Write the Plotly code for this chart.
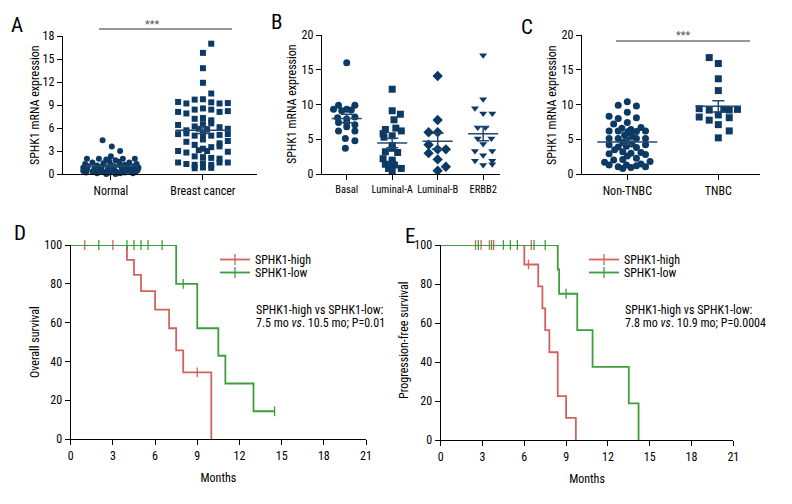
import numpy as np
import plotly.graph_objects as go

# ---------------- DATA ----------------
# Panel A: SPHK1 mRNA expression, Normal vs Breast cancer
A_categories = ["Normal", "Breast cancer"]
A_normal_vals = [4.4, 3.6, 3.0, 2.3, 2.0, 2.0, 2.0, 2.0, 1.9, 1.8, 1.7, 1.6, 1.5, 1.5, 1.4, 1.3, 1.3,
                 1.2, 1.2, 1.1, 1.1, 1.0, 1.0, 1.0, 0.9, 0.9, 0.8, 0.8, 0.8, 0.7, 0.7, 0.6, 0.6, 0.6,
                 0.5, 0.5, 0.5, 0.4, 0.4, 0.4, 0.3, 0.3, 0.3, 0.3, 0.2, 0.2, 0.2, 0.1, 0.1, 0.1, 0.0, 0.0]
A_normal_jitter = [-0.09, 0.01, 0.10, 0.0, -0.26, -0.13, 0.13, 0.26, -0.05, 0.05, -0.02, 0.09, -0.20, 0.20,
                   -0.08, -0.28, 0.28, 0.0, 0.15, -0.15, 0.10, -0.25, 0.25, 0.04, -0.10, 0.18, -0.30, -0.03,
                   0.30, -0.18, 0.12, -0.26, 0.03, 0.22, -0.12, 0.14, 0.29, -0.30, -0.04, 0.20, -0.20, 0.06,
                   0.27, -0.09, -0.27, 0.15, -0.01, -0.15, 0.10, 0.24, -0.05, 0.05]
A_cancer_vals = [17.0, 15.8, 13.8, 11.9, 10.5,
                 9.4, 9.2, 9.7, 9.75, 9.35, 9.2, 9.25,
                 8.1, 7.9, 8.4, 8.55, 8.4, 8.1, 8.2,
                 7.2, 7.3, 7.0,
                 6.4, 6.2, 6.5, 6.6, 6.1,
                 5.7, 5.9, 5.8, 5.9,
                 5.2, 5.3, 5.0, 5.2, 5.0, 5.1, 5.2,
                 4.2, 4.5, 4.0, 4.3,
                 3.8, 3.3, 3.5, 3.6,
                 3.0, 2.8, 3.1, 3.0, 2.9,
                 2.3, 2.2, 2.1, 2.0,
                 1.5, 1.3, 1.2, 1.4, 1.2, 1.5, 1.5,
                 0.75, 0.85, 0.8]
A_cancer_jitter = [0.09, 0, 0, 0, 0.09,
                   -0.27, -0.18, -0.09, 0, 0.09, 0.18, 0.27,
                   -0.27, -0.18, -0.09, 0, 0.09, 0.18, 0.27,
                   -0.09, 0, 0.09,
                   -0.27, -0.09, 0, 0.09, 0.18,
                   -0.18, -0.045, 0.045, 0.27,
                   -0.27, -0.18, -0.09, 0, 0.09, 0.18, 0.27,
                   -0.18, 0, 0.18, 0.27,
                   -0.09, 0, 0.09, 0.18,
                   -0.27, -0.18, -0.045, 0.045, 0.27,
                   -0.09, 0, 0.09, 0.18,
                   -0.27, -0.18, -0.09, 0, 0.09, 0.18, 0.27,
                   -0.09, 0, 0.09]
A_ticks = [0, 3, 6, 9, 12, 15, 18]

# Panel B: subtypes
B_categories = ["Basal", "Luminal-A", "Luminal-B", "ERBB2"]
B_basal_vals = [16.0, 9.9, 9.9, 9.3, 9.1, 9.3, 9.2, 8.1, 7.9, 8.2, 7.4, 7.4, 7.1, 6.2, 6.8, 6.2, 5.1, 4.8, 3.7]
B_basal_jit = [0, -0.18, 0.18, -0.29, -0.11, 0.0, 0.10, -0.20, 0.0, 0.18, -0.18, 0.0, 0.18, -0.18, 0.0, 0.18, -0.03, 0.18, -0.03]
B_luma_vals = [12.2, 9.1, 8.6, 7.8, 6.4, 6.6, 6.2, 5.8, 5.5, 5.3, 4.1, 3.7, 3.2, 3.1, 2.2, 2.0, 1.6, 1.4, 1.3, 0.8, 0.8, 0.5]
B_luma_jit = [0, 0, 0.18, 0.04, -0.15, 0.08, 0.20, -0.20, 0.0, -0.18, 0.0, 0.0, -0.15, 0.12, -0.20, 0.0, 0.0, -0.15, 0.05, 0.20, -0.08, 0.0]
B_lumb_vals = [14.1, 7.77, 6.0, 6.0, 4.2, 3.55, 3.55, 3.0, 2.1, 1.05, 0.48]
B_lumb_jit = [0, 0, -0.20, 0.0, -0.20, 0.0, 0.18, -0.20, 0.0, 0.18, 0.0]
B_erbb2_vals = [17.1, 10.75, 9.45, 8.7, 8.7, 6.7, 6.7, 5.1, 5.1, 4.3, 3.3, 3.3, 2.7, 1.9, 1.9, 1.3, 1.4]
B_erbb2_jit = [0, 0, -0.18, 0.0, 0.20, -0.12, 0.05, -0.12, 0.18, 0.0, -0.18, 0.20, 0.0, -0.18, 0.20, 0.0, 0.20]
B_ticks = [0, 5, 10, 15, 20]

# Panel C: Non-TNBC vs TNBC
C_categories = ["Non-TNBC", "TNBC"]
C_non_vals = [10.4, 9.9, 9.8, 8.9, 8.3, 8.0, 8.1, 7.4, 7.2, 6.6, 6.4, 6.7, 6.2, 6.2, 6.1, 6.1, 6.2, 5.9, 5.6,
              5.1, 5.1, 4.9, 5.1, 5.1, 5.4, 4.2, 3.9, 4.0, 3.8, 4.2, 4.5, 4.3, 2.9, 3.2, 3.0, 3.1, 2.8, 3.5,
              2.0, 2.1, 2.25, 1.8, 2.6, 1.3, 1.05, 1.3, 1.45, 1.05, 0.95, 0.8, 1.7, 1.2]
C_non_jit = [0.0, -0.10, 0.10, 0.0, -0.20, -0.10, 0.10, 0.0, -0.15, -0.06, 0.04, 0.15, -0.10, -0.20, 0.01, 0.10, 0.20, 0.03, -0.03,
             -0.20, -0.10, -0.01, 0.10, 0.20, 0.05, -0.20, -0.10, -0.01, 0.10, 0.20, -0.05, 0.05, -0.20, -0.05, 0.04, 0.15, 0.20, -0.14,
             -0.15, -0.05, 0.10, 0.25, 0.0, -0.20, -0.10, -0.01, 0.15, 0.20, 0.04, -0.05, -0.25, 0.10]
C_tnbc_vals = [16.75, 15.9, 13.7, 12.0, 9.4, 9.2, 9.3, 9.2, 9.3, 8.2, 7.75, 8.5, 8.1, 7.1, 6.2, 5.2]
C_tnbc_jit = [-0.10, 0.0, 0.0, 0.0, -0.21, -0.10, 0.06, 0.12, 0.21, -0.21, -0.10, 0.0, 0.12, 0.0, 0.12, 0.0]
C_ticks = [0, 5, 10, 15, 20]

# Panel D: Overall survival (Kaplan-Meier)
D_high_t = [0, 4.0, 4.5, 5.0, 6.0, 7.0, 7.5, 8.0, 10.0]
D_high_s = [100, 92.3, 84.6, 76.2, 66.7, 57.1, 45.7, 34.3, 0]
D_high_cens_t = [1.0, 3.0, 9.0]
D_high_cens_s = [100, 100, 34.3]
D_low_t = [0, 7.5, 9.0, 10.5, 11.0, 13.0, 14.5]
D_low_s = [100, 80.0, 57.1, 42.9, 28.6, 14.3, 14.3]
D_low_cens_t = [2.0, 4.0, 4.5, 5.0, 5.5, 6.5, 8.0, 14.5]
D_low_cens_s = [100, 100, 100, 100, 100, 100, 80.0, 14.3]

# Panel E: Progression-free survival (Kaplan-Meier)
E_high_t = [0, 6.0, 7.0, 7.3, 7.5, 7.8, 8.4, 9.0, 9.7]
E_high_s = [100, 90.0, 78.8, 67.5, 56.3, 45.0, 22.5, 11.3, 0]
E_high_cens_t = [2.5, 2.9, 3.5, 3.8, 6.5, 6.3]
E_high_cens_s = [100, 100, 100, 100, 100, 90.0]
E_low_t = [0, 8.4, 8.5, 9.8, 10.9, 13.5, 14.2]
E_low_s = [100, 87.5, 75.0, 56.3, 37.5, 18.8, 0]
E_low_cens_t = [2.7, 3.65, 4.5, 5.0, 5.5, 6.7, 7.5, 9.0]
E_low_cens_s = [100, 100, 100, 100, 100, 100, 100, 75.0]

KM_xticks = [0, 3, 6, 9, 12, 15, 18, 21]
KM_yticks = [0, 20, 40, 60, 80, 100]
series_names = ["SPHK1-high", "SPHK1-low"]
D_stat_lines = ["SPHK1-high vs SPHK1-low:", "7.5 mo <i>vs</i>. 10.5 mo; P=0.01"]
E_stat_lines = ["SPHK1-high vs SPHK1-low:", "7.8 mo <i>vs</i>. 10.9 mo; P=0.0004"]

# ---------------- STYLE ----------------
W, H = 792, 504
FONT = "Liberation Sans Narrow, Arial Narrow, Roboto Condensed, DejaVu Sans Condensed, sans-serif"
NAVY = "#0d3a64"
MEANC = "#24496f"
RED = "#d4625c"
GREEN = "#3e9d3c"


def dx(p):
    return p / W


def dy(p):
    return 1 - p / H


fig = go.Figure()


def add_group(xa, ya, center, vals, jit, symbol, size, half, cap):
    vals = np.asarray(vals, float)
    x = center + np.asarray(jit, float)
    fig.add_trace(go.Scatter(x=x, y=vals, mode="markers", xaxis=xa, yaxis=ya, showlegend=False,
                             cliponaxis=False,
                             marker=dict(symbol=symbol, size=size, color=NAVY, line=dict(width=0))))
    m = vals.mean()
    sem = vals.std(ddof=1) / np.sqrt(len(vals))
    fig.add_trace(go.Scatter(x=[center - half, center + half], y=[m, m], mode="lines", xaxis=xa, yaxis=ya,
                             showlegend=False, line=dict(color=MEANC, width=1.5)))
    fig.add_trace(go.Scatter(x=[center], y=[m], mode="markers", xaxis=xa, yaxis=ya, showlegend=False,
                             marker=dict(size=1, color=MEANC),
                             error_y=dict(type="data", array=[sem], color=MEANC, thickness=1.5, width=cap)))


# Panel A
add_group("x", "y", 0, A_normal_vals, A_normal_jitter, "circle", 6, 0.28, 6)
add_group("x", "y", 1, A_cancer_vals, A_cancer_jitter, "square", 6, 0.30, 6)
# Panel B
for i, (v, j, s) in enumerate([(B_basal_vals, B_basal_jit, "circle"), (B_luma_vals, B_luma_jit, "square"),
                               (B_lumb_vals, B_lumb_jit, "diamond"), (B_erbb2_vals, B_erbb2_jit, "triangle-down")]):
    add_group("x2", "y2", i, v, j, s, 7 if s != "diamond" else 8, 0.33, 6)
# Panel C
add_group("x3", "y3", 0, C_non_vals, C_non_jit, "circle", 7, 0.33, 6)
add_group("x3", "y3", 1, C_tnbc_vals, C_tnbc_jit, "square", 7, 0.25, 6)


# KM panels
def km(xa, ya, t, s, ct, cs, color, name, legend):
    fig.add_trace(go.Scatter(x=t, y=s, mode="lines", line_shape="hv", xaxis=xa, yaxis=ya, showlegend=False,
                             cliponaxis=False, line=dict(color=color, width=1.8)))
    fig.add_trace(go.Scatter(x=ct, y=cs, mode="markers", xaxis=xa, yaxis=ya, showlegend=False, cliponaxis=False,
                             marker=dict(symbol="line-ns", size=7, line=dict(color=color, width=1.3))))
    fig.add_trace(go.Scatter(x=[None], y=[None], mode="lines+markers", xaxis=xa, yaxis=ya, name=name,
                             legend=legend, showlegend=True, line=dict(color=color, width=1.8),
                             marker=dict(symbol="line-ns", size=8, line=dict(color=color, width=1.3))))


km("x4", "y4", D_high_t, D_high_s, D_high_cens_t, D_high_cens_s, RED, series_names[0], "legend")
km("x4", "y4", D_low_t, D_low_s, D_low_cens_t, D_low_cens_s, GREEN, series_names[1], "legend2")
km("x5", "y5", E_high_t, E_high_s, E_high_cens_t, E_high_cens_s, RED, series_names[0], "legend3")
km("x5", "y5", E_low_t, E_low_s, E_low_cens_t, E_low_cens_s, GREEN, series_names[1], "legend4")

axis_common = dict(showline=True, linecolor="black", linewidth=1.4, ticks="outside", ticklen=5, tickwidth=1.3,
                   tickcolor="black", showgrid=False, zeroline=False, tickfont=dict(size=12, color="black"),
                   fixedrange=True, automargin=False, tickangle=0)

lay = dict(template="none", width=W, height=H, margin=dict(l=0, r=0, t=0, b=0, pad=0),
           paper_bgcolor="white", plot_bgcolor="white", font=dict(family=FONT, color="black", size=12))

# A
lay["xaxis"] = dict(axis_common, domain=[dx(63), dx(257)], range=[-0.52, 1.587], anchor="y",
                    tickvals=[0, 1], ticktext=A_categories)
lay["yaxis"] = dict(axis_common, domain=[dy(174), dy(36)], range=[0, 18], anchor="x", tickvals=A_ticks)
# B
lay["xaxis2"] = dict(axis_common, domain=[dx(322), dx(500)], range=[-0.543, 3.37], anchor="y2",
                     tickvals=[0, 1, 2, 3], ticktext=B_categories, tickfont=dict(size=10.5, color="black"))
lay["yaxis2"] = dict(axis_common, domain=[dy(174), dy(35)], range=[0, 20], anchor="x2", tickvals=B_ticks)
# C
lay["xaxis3"] = dict(axis_common, domain=[dx(582), dx(760)], range=[-0.498, 1.458], anchor="y3",
                     tickvals=[0, 1], ticktext=C_categories)
lay["yaxis3"] = dict(axis_common, domain=[dy(174), dy(35)], range=[0, 20], anchor="x3", tickvals=C_ticks)
# D
lay["xaxis4"] = dict(axis_common, domain=[dx(70.7), dx(366)], range=[0, 21], anchor="y4", tickvals=KM_xticks,
                     title=dict(text="Months", font=dict(size=12), standoff=12))
lay["yaxis4"] = dict(axis_common, domain=[dy(439), dy(245)], range=[0, 100], anchor="x4", tickvals=KM_yticks)
# E
lay["xaxis5"] = dict(axis_common, domain=[dx(440.7), dx(733.3)], range=[0, 21], anchor="y5", tickvals=KM_xticks,
                     title=dict(text="Months", font=dict(size=12), standoff=12))
lay["yaxis5"] = dict(axis_common, domain=[dy(440), dy(245)], range=[0, 100], anchor="x5", tickvals=KM_yticks)

leg_common = dict(bgcolor="rgba(0,0,0,0)", font=dict(size=12, family=FONT), xanchor="left", yanchor="top",
                  tracegroupgap=0, itemwidth=30)
lay["legend"] = dict(leg_common, x=dx(215), y=dy(245))
lay["legend2"] = dict(leg_common, x=dx(215), y=dy(258))
lay["legend3"] = dict(leg_common, x=dx(584), y=dy(245))
lay["legend4"] = dict(leg_common, x=dx(584), y=dy(258))

fig.update_layout(**lay)

# y-axis titles (rotated text)
for txt, px, py in [("SPHK1 mRNA expression", 35, 105), ("SPHK1 mRNA expression", 292, 104),
                    ("SPHK1 mRNA expression", 552, 105), ("Overall survival", 35, 342),
                    ("Progression-free survival", 404, 340)]:
    fig.add_annotation(text=txt, x=dx(px), y=dy(py), xref="paper", yref="paper", showarrow=False,
                       textangle=-90, xanchor="center", yanchor="middle", font=dict(size=12, family=FONT))

# panel letters
for letter, px, py in [("A", 17, 25), ("B", 276, 22), ("C", 527, 27), ("D", 20, 233), ("E", 410, 236)]:
    fig.add_annotation(text=letter, x=dx(px), y=dy(py), xref="paper", yref="paper", showarrow=False,
                       xanchor="center", yanchor="middle", font=dict(size=21, family=FONT, color="black"))

# significance bars
for x0, x1, yy, tx, ty in [(99, 232, 29, 152, 24), (616, 750, 41, 683, 36)]:
    fig.add_shape(type="line", xref="paper", yref="paper", x0=dx(x0), x1=dx(x1), y0=dy(yy), y1=dy(yy),
                  line=dict(color="#333333", width=1.2))
    fig.add_annotation(text="***", x=dx(tx), y=dy(ty), xref="paper", yref="paper", showarrow=False,
                       xanchor="center", yanchor="middle", font=dict(size=11, family=FONT, color="#555555"))

# KM statistics text
for lines, px in [(D_stat_lines, 254), (E_stat_lines, 623)]:
    for k, (line, py) in enumerate(zip(lines, [310, 322.5])):
        fig.add_annotation(text=line, x=dx(px), y=dy(py), xref="paper", yref="paper", xanchor="left",
                           yanchor="middle", showarrow=False, font=dict(size=12, family=FONT))

fig.write_html("out.html", config={"displayModeBar": False},
               post_script="document.body.style.margin='0px';document.body.style.padding='0px';")
